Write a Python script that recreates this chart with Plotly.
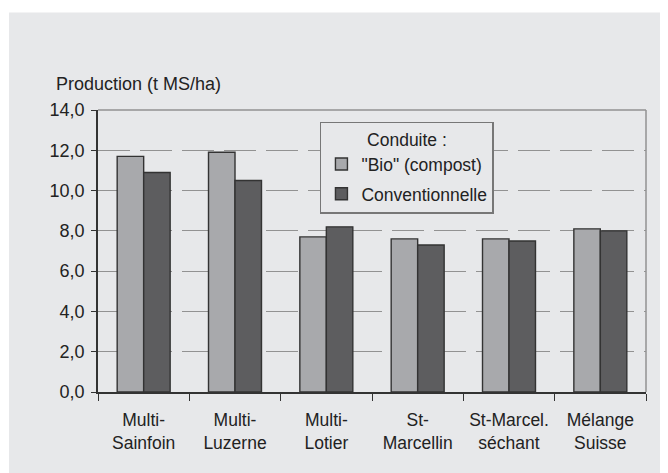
import plotly.graph_objects as go

categories = ["Multi-<br>Sainfoin", "Multi-<br>Luzerne", "Multi-<br>Lotier",
              "St-<br>Marcellin", "St-Marcel.<br>séchant", "Mélange<br>Suisse"]
bio = [11.7, 11.9, 7.7, 7.6, 7.6, 8.1]
conv = [10.9, 10.5, 8.2, 7.3, 7.5, 8.0]
yticks = [0, 2, 4, 6, 8, 10, 12, 14]

BG = "#e7e8ea"
FONT = "Liberation Sans, Arial, sans-serif"

fig = go.Figure()
fig.add_bar(x=categories, y=bio, name='"Bio" (compost)', legendgroup="a",
            marker=dict(color="#a8a9ac", line=dict(color="#333333", width=1.4)))
fig.add_bar(x=categories, y=conv, name="Conventionnelle", legendgroup="b",
            marker=dict(color="#5d5d5f", line=dict(color="#333333", width=1.4)))

fig.update_layout(
    width=660, height=465,
    margin=dict(l=90, r=22, t=102, b=81),
    paper_bgcolor="#ffffff", plot_bgcolor=BG,
    font=dict(family=FONT, size=18, color="#222222"),
    separators=", ",
    barmode="group", bargap=0.42, bargroupgap=0,
    showlegend=True,
    legend=dict(
        title=dict(text="Conduite :", side="top center", font=dict(size=17.5)),
        x=0.405, y=0.958, xanchor="left", yanchor="top",
        bgcolor=BG, bordercolor="#777777", borderwidth=1.5,
        font=dict(size=17.5), traceorder="grouped", tracegroupgap=4,
    ),
    xaxis=dict(
        showline=True, linecolor="#333333", linewidth=1.5,
        ticks="outside", ticklen=7, tickcolor="#333333", tickson="boundaries",
        showgrid=False, tickfont=dict(size=17.5), ticklabelstandoff=11,
    ),
    yaxis=dict(
        range=[0, 14], tickvals=yticks, tickformat=".1f",
        showline=True, linecolor="#333333", linewidth=1.5,
        ticks="outside", ticklen=5, tickcolor="#333333",
        showgrid=True, gridcolor="#929292", gridwidth=1.2, griddash="32px,10px",
        zeroline=False, tickfont=dict(size=18), ticklabelstandoff=3,
    ),
    shapes=[
        dict(type="rect", xref="paper", yref="paper", layer="below",
             x0=-0.1624, x1=1.06, y0=-0.32, y1=1.346,
             fillcolor=BG, line=dict(width=0)),
        dict(type="line", xref="paper", yref="paper", x0=0, x1=1, y0=1, y1=1,
             line=dict(color="#929292", width=1.5)),
        dict(type="line", xref="paper", yref="paper", x0=1, x1=1, y0=0, y1=1,
             line=dict(color="#929292", width=1.5)),
    ],
    annotations=[
        dict(text="Production (t MS/ha)", xref="paper", yref="paper",
             x=-0.0803, y=1.091, xanchor="left", yanchor="middle",
             showarrow=False, font=dict(size=18)),
    ],
)

fig.write_html("out.html")
